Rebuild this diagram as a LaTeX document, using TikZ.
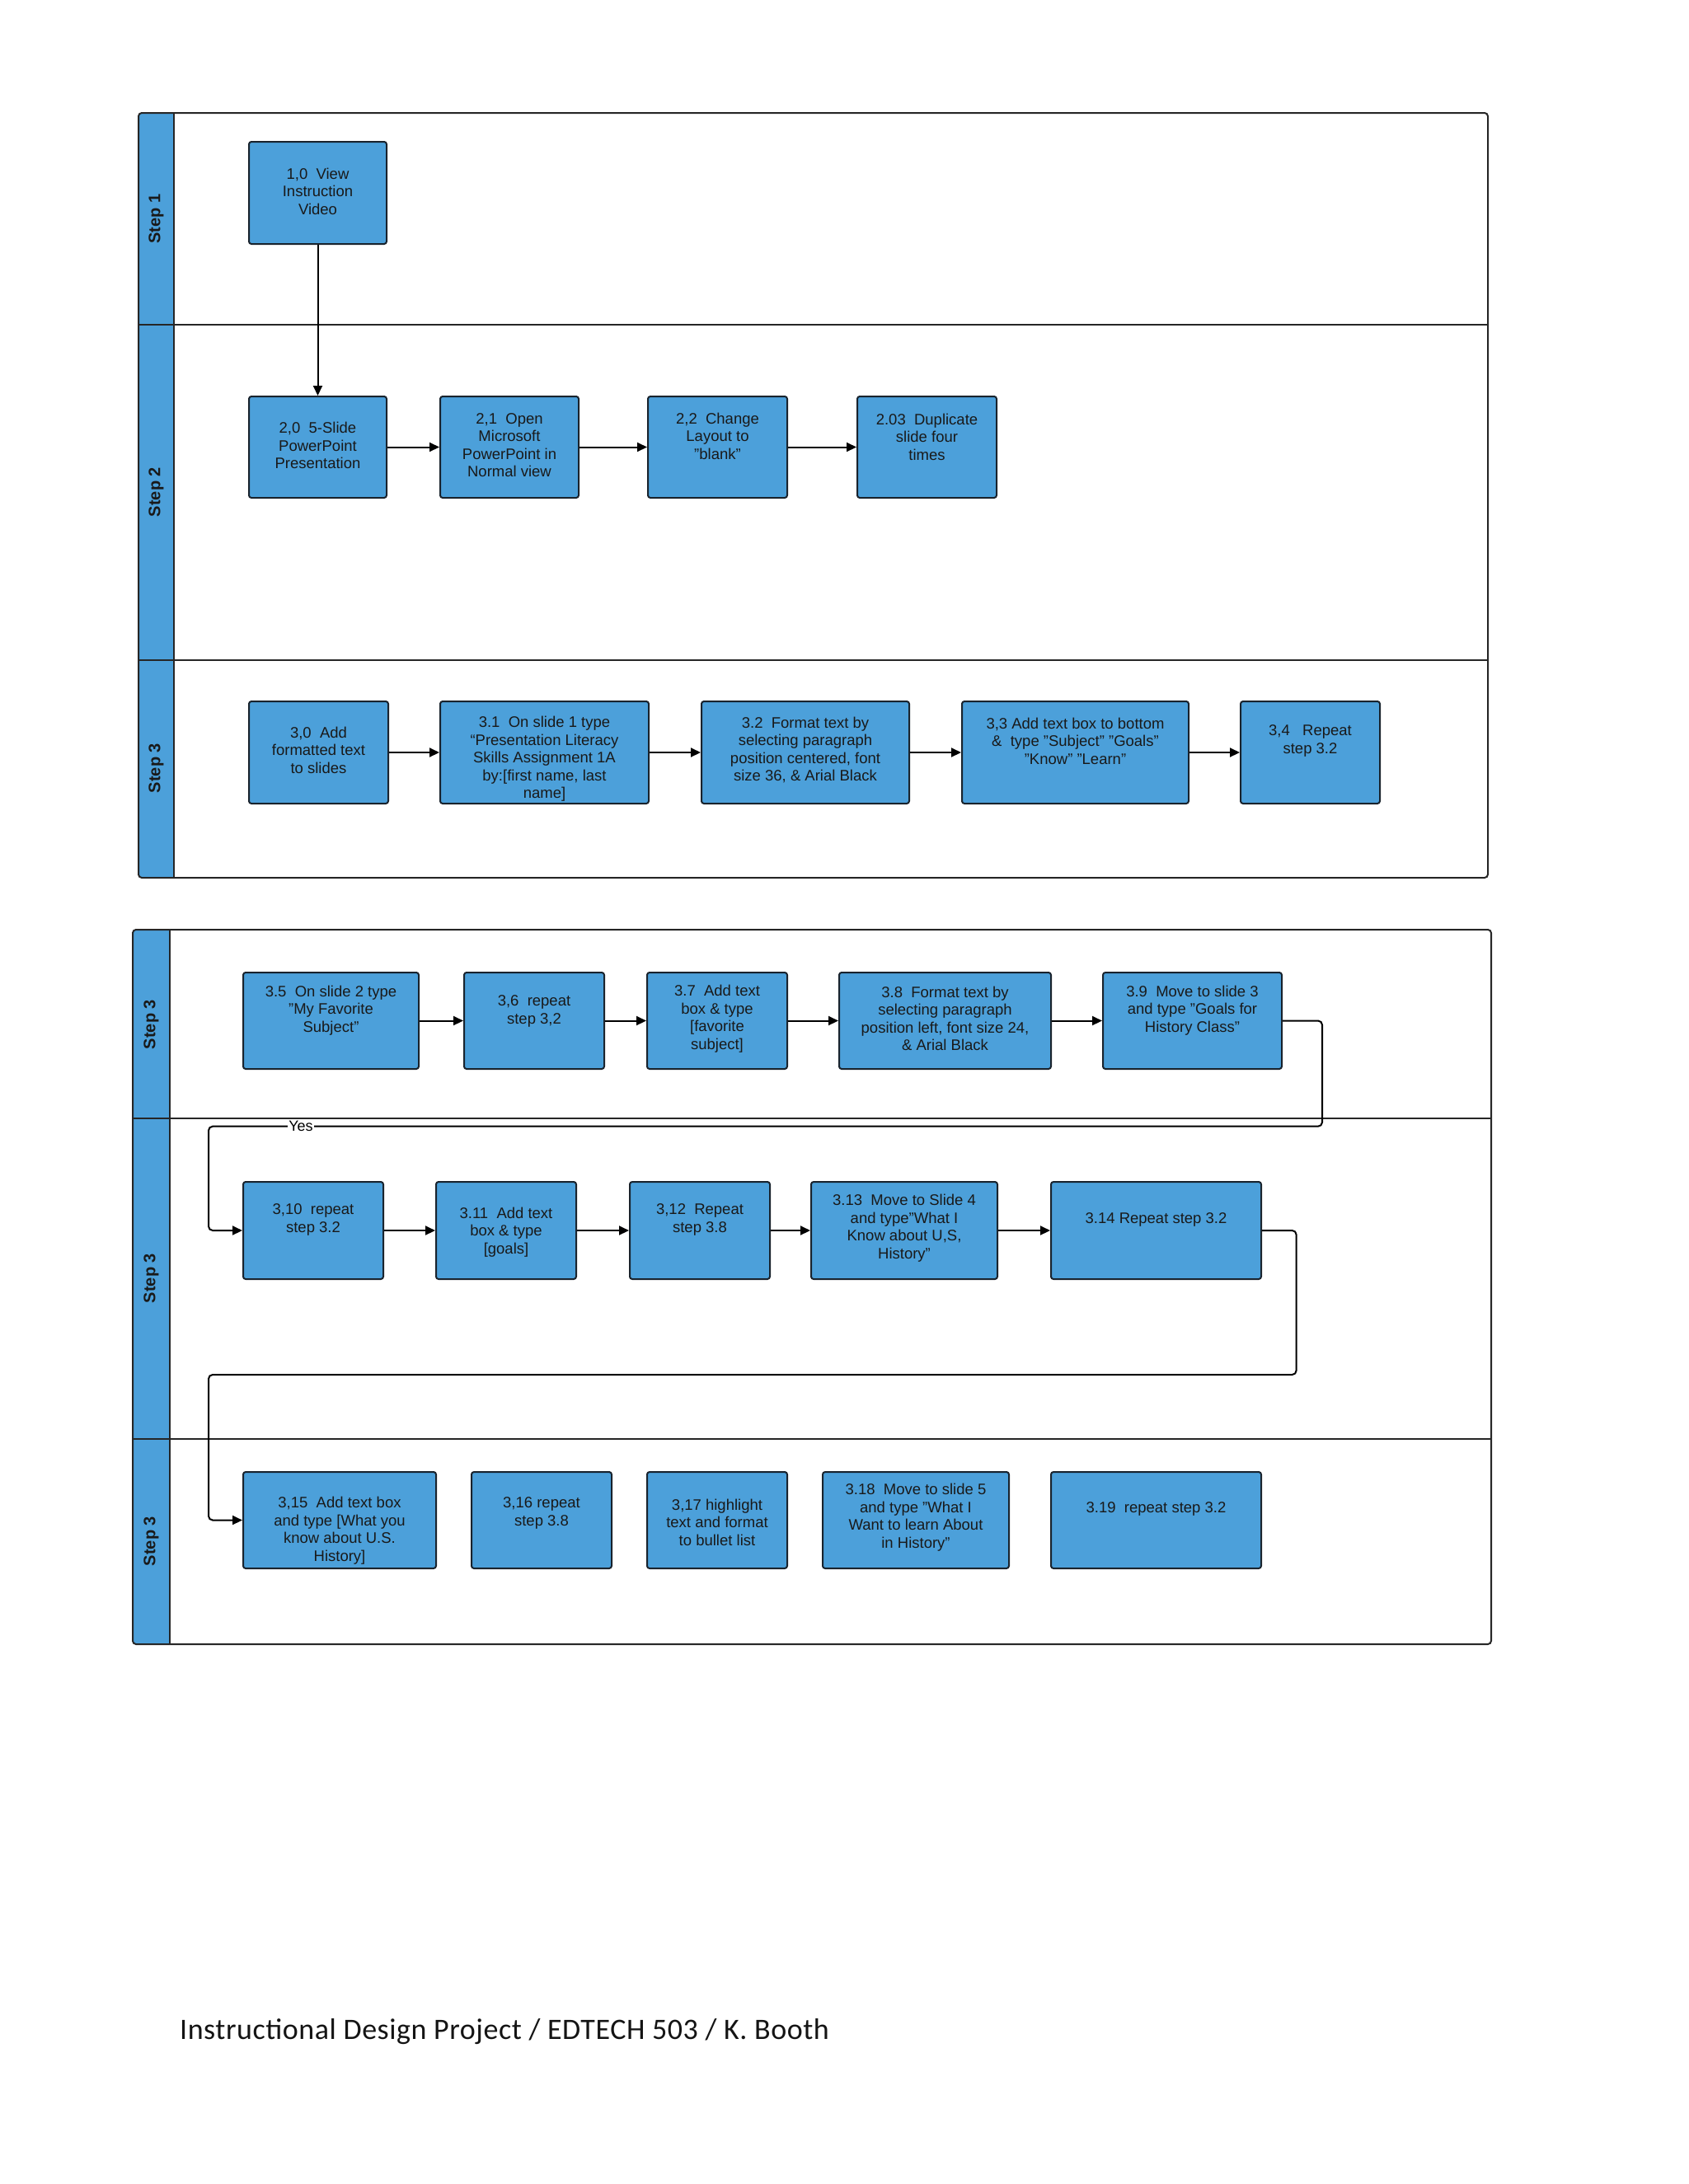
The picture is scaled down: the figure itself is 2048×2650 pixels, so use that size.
\documentclass[tikz,border=0pt]{standalone}
\usepackage{fontspec}
\setmainfont{Liberation Sans}
\newfontfamily\footfont[LetterSpace=1.5]{Carlito}
\usetikzlibrary{arrows.meta}
\definecolor{boxblue}{RGB}{76,160,218}
\definecolor{edgecol}{RGB}{25,35,45}
\newcommand\flowbox[7]{%
  \pgfmathsetmacro\fbw{#4-#2}\pgfmathsetmacro\fbh{#5-#3}%
  \node[fbox, minimum width=\fbw pt, minimum height=\fbh pt] (#1) at ({(#2+#4)/2},{(#3+#5)/2}) {};
  \node[ftext] (#1t) at ({(#2+#4)/2},#6) {#7};}
\begin{document}
\begin{tikzpicture}[x=1pt,y=-1pt,
  fbox/.style={draw=edgecol, line width=2pt, fill=boxblue, rounded corners=3pt, inner sep=0pt},
  ftext/.style={align=center, font=\fontsize{18.5}{21.5}\selectfont, inner sep=0pt, text=black!90},
  lanefill/.style={fill=boxblue},
  panel/.style={draw=black!85, line width=2pt},
  lanelabel/.style={rotate=90, font=\bfseries\fontsize{20}{22}\selectfont, text=black!90},
  arr/.style={draw=black, line width=2pt, -{Triangle[length=12pt,width=11pt]}},
  backline/.style={arr, rounded corners=5pt}]
\useasboundingbox (0,0) rectangle (2048,2650);
\fill[white] (0,0) rectangle (2048,2650);

% ---------- panel 1 ----------
\fill[lanefill, rounded corners=4pt] (211,137) -- (168,137) -- (168,1065) -- (211,1065);
\draw[panel] (168,394) -- (1805,394);
\draw[panel] (168,800.6) -- (1805,800.6);
\draw[panel] (211,137) -- (211,1065);
\draw[panel, rounded corners=4pt] (168,137) rectangle (1805,1065);
\node[lanelabel] (lab1) at (189.5,265.5) {Step 1};
\node[lanelabel] (lab2) at (189.5,597) {Step 2};
\node[lanelabel] (lab3) at (189.5,932) {Step 3};

\flowbox{b10}{302}{172}{469}{296}{232}{1,0~ View\\Instruction\\Video}
\flowbox{b20}{302}{481}{469}{604}{540.5}{2,0~ 5-Slide\\PowerPoint\\Presentation}
\flowbox{b21}{534}{481}{702}{604}{540}{2,1~ Open\\Microsoft\\PowerPoint in\\Normal view}
\flowbox{b22}{786}{481}{955}{604}{529}{2,2~ Change\\Layout to\\"blank"}
\flowbox{b203}{1040}{481}{1209}{604}{530}{2.03~ Duplicate\\slide four\\times}
\flowbox{b30}{302}{851}{471}{975}{910}{3,0~ Add\\formatted text\\to slides}
\flowbox{b31}{534}{851}{787}{975}{921}{3.1~ On slide 1 type\\“Presentation Literacy\\Skills Assignment 1A\\by:[first name, last\\name]}
\flowbox{b32}{851}{851}{1103}{975}{910}{3.2~ Format text by\\selecting paragraph\\position centered, font\\size 36, \& Arial Black}
\flowbox{b33}{1167}{851}{1442}{975}{899}{3,3 Add text box to bottom\\\&~ type "Subject" "Goals"\\"Know" "Learn"}
\flowbox{b34}{1505}{851}{1674}{975}{899}{3,4~~ Repeat\\step 3.2}

\draw[arr] (b10.south) -- (b20.north);
\draw[arr] (b20.east) -- (b21.west);
\draw[arr] (b21.east) -- (b22.west);
\draw[arr] (b22.east) -- (b203.west);
\draw[arr] (b30.east) -- (b31.west);
\draw[arr] (b31.east) -- (b32.west);
\draw[arr] (b32.east) -- (b33.west);
\draw[arr] (b33.east) -- (b34.west);

% ---------- panel 2 ----------
\fill[lanefill, rounded corners=4pt] (206,1128) -- (161,1128) -- (161,1995) -- (206,1995);
\draw[panel] (161,1357) -- (1809,1357);
\draw[panel] (161,1746) -- (1809,1746);
\draw[panel] (206,1128) -- (206,1995);
\draw[panel, rounded corners=4pt] (161,1128) rectangle (1809,1995);
\node[lanelabel] (lab4) at (183.5,1243) {Step 3};
\node[lanelabel] (lab5) at (183.5,1551) {Step 3};
\node[lanelabel] (lab6) at (183.5,1870) {Step 3};

\flowbox{b35}{295}{1180}{508}{1297}{1226}{3.5~ On slide 2 type\\"My Favorite\\Subject"}
\flowbox{b36}{563}{1180}{733}{1297}{1227}{3,6~ repeat\\step 3,2}
\flowbox{b37}{785}{1180}{955}{1297}{1236}{3.7~ Add text\\box \& type\\{}[favorite\\subject]}
\flowbox{b38}{1018}{1180}{1275}{1297}{1236}{3.8~ Format text by\\selecting paragraph\\position left, font size 24,\\\& Arial Black}
\flowbox{b39}{1338}{1180}{1555}{1297}{1226}{3.9~ Move to slide 3\\and type "Goals for\\History Class"}

\flowbox{b310}{295}{1434}{465}{1552}{1480}{3,10~ repeat\\step 3.2}
\flowbox{b311}{529}{1434}{699}{1552}{1495}{3.11~ Add text\\box \& type\\{}[goals]}
\flowbox{b312}{764}{1434}{934}{1552}{1480}{3,12~ Repeat\\step 3.8}
\flowbox{b313}{984}{1434}{1210}{1552}{1490}{3.13~ Move to Slide 4\\and type"What I\\Know about U,S,\\History"}
\flowbox{b314}{1275}{1434}{1530}{1552}{1480}{3.14 Repeat step 3.2}

\flowbox{b315}{295}{1786}{529}{1903}{1857}{3,15~ Add text box\\and type [What you\\know about U.S.\\History]}
\flowbox{b316}{572}{1786}{742}{1903}{1836}{3,16 repeat\\step 3.8}
\flowbox{b317}{785}{1786}{955}{1903}{1847}{3,17 highlight\\text and format\\to bullet list}
\flowbox{b318}{998}{1786}{1224}{1903}{1841}{3.18~ Move to slide 5\\and type "What I\\Want to learn About\\in History"}
\flowbox{b319}{1275}{1786}{1530}{1903}{1831}{3.19~ repeat step 3.2}

\draw[arr] (b35.east) -- (b36.west);
\draw[arr] (b36.east) -- (b37.west);
\draw[arr] (b37.east) -- (b38.west);
\draw[arr] (b38.east) -- (b39.west);
\draw[arr] (b310.east) -- (b311.west);
\draw[arr] (b311.east) -- (b312.west);
\draw[arr] (b312.east) -- (b313.west);
\draw[arr] (b313.east) -- (b314.west);

\coordinate (l1a) at (1604,1366.7);
\coordinate (l1b) at (253,1366.7);
\draw[backline] (b39.east) -| (l1a) -- (l1b) |- (b310.west);
\node[fill=white, inner sep=1pt, font=\fontsize{18}{20}\selectfont] (yes) at (365,1366.7) {Yes};

\coordinate (l2a) at (1572.6,1668);
\coordinate (l2b) at (253,1668);
\draw[backline] (b314.east) -| (l2a) -- (l2b) |- (b315.west);

% ---------- footer ----------
\node[anchor=base west, inner sep=0pt, text=black!92, font=\footfont\fontsize{36}{40}\selectfont] (foot) at (218,2474) {Instructional Design Project / EDTECH 503 / K. Booth};
\end{tikzpicture}
\end{document}
